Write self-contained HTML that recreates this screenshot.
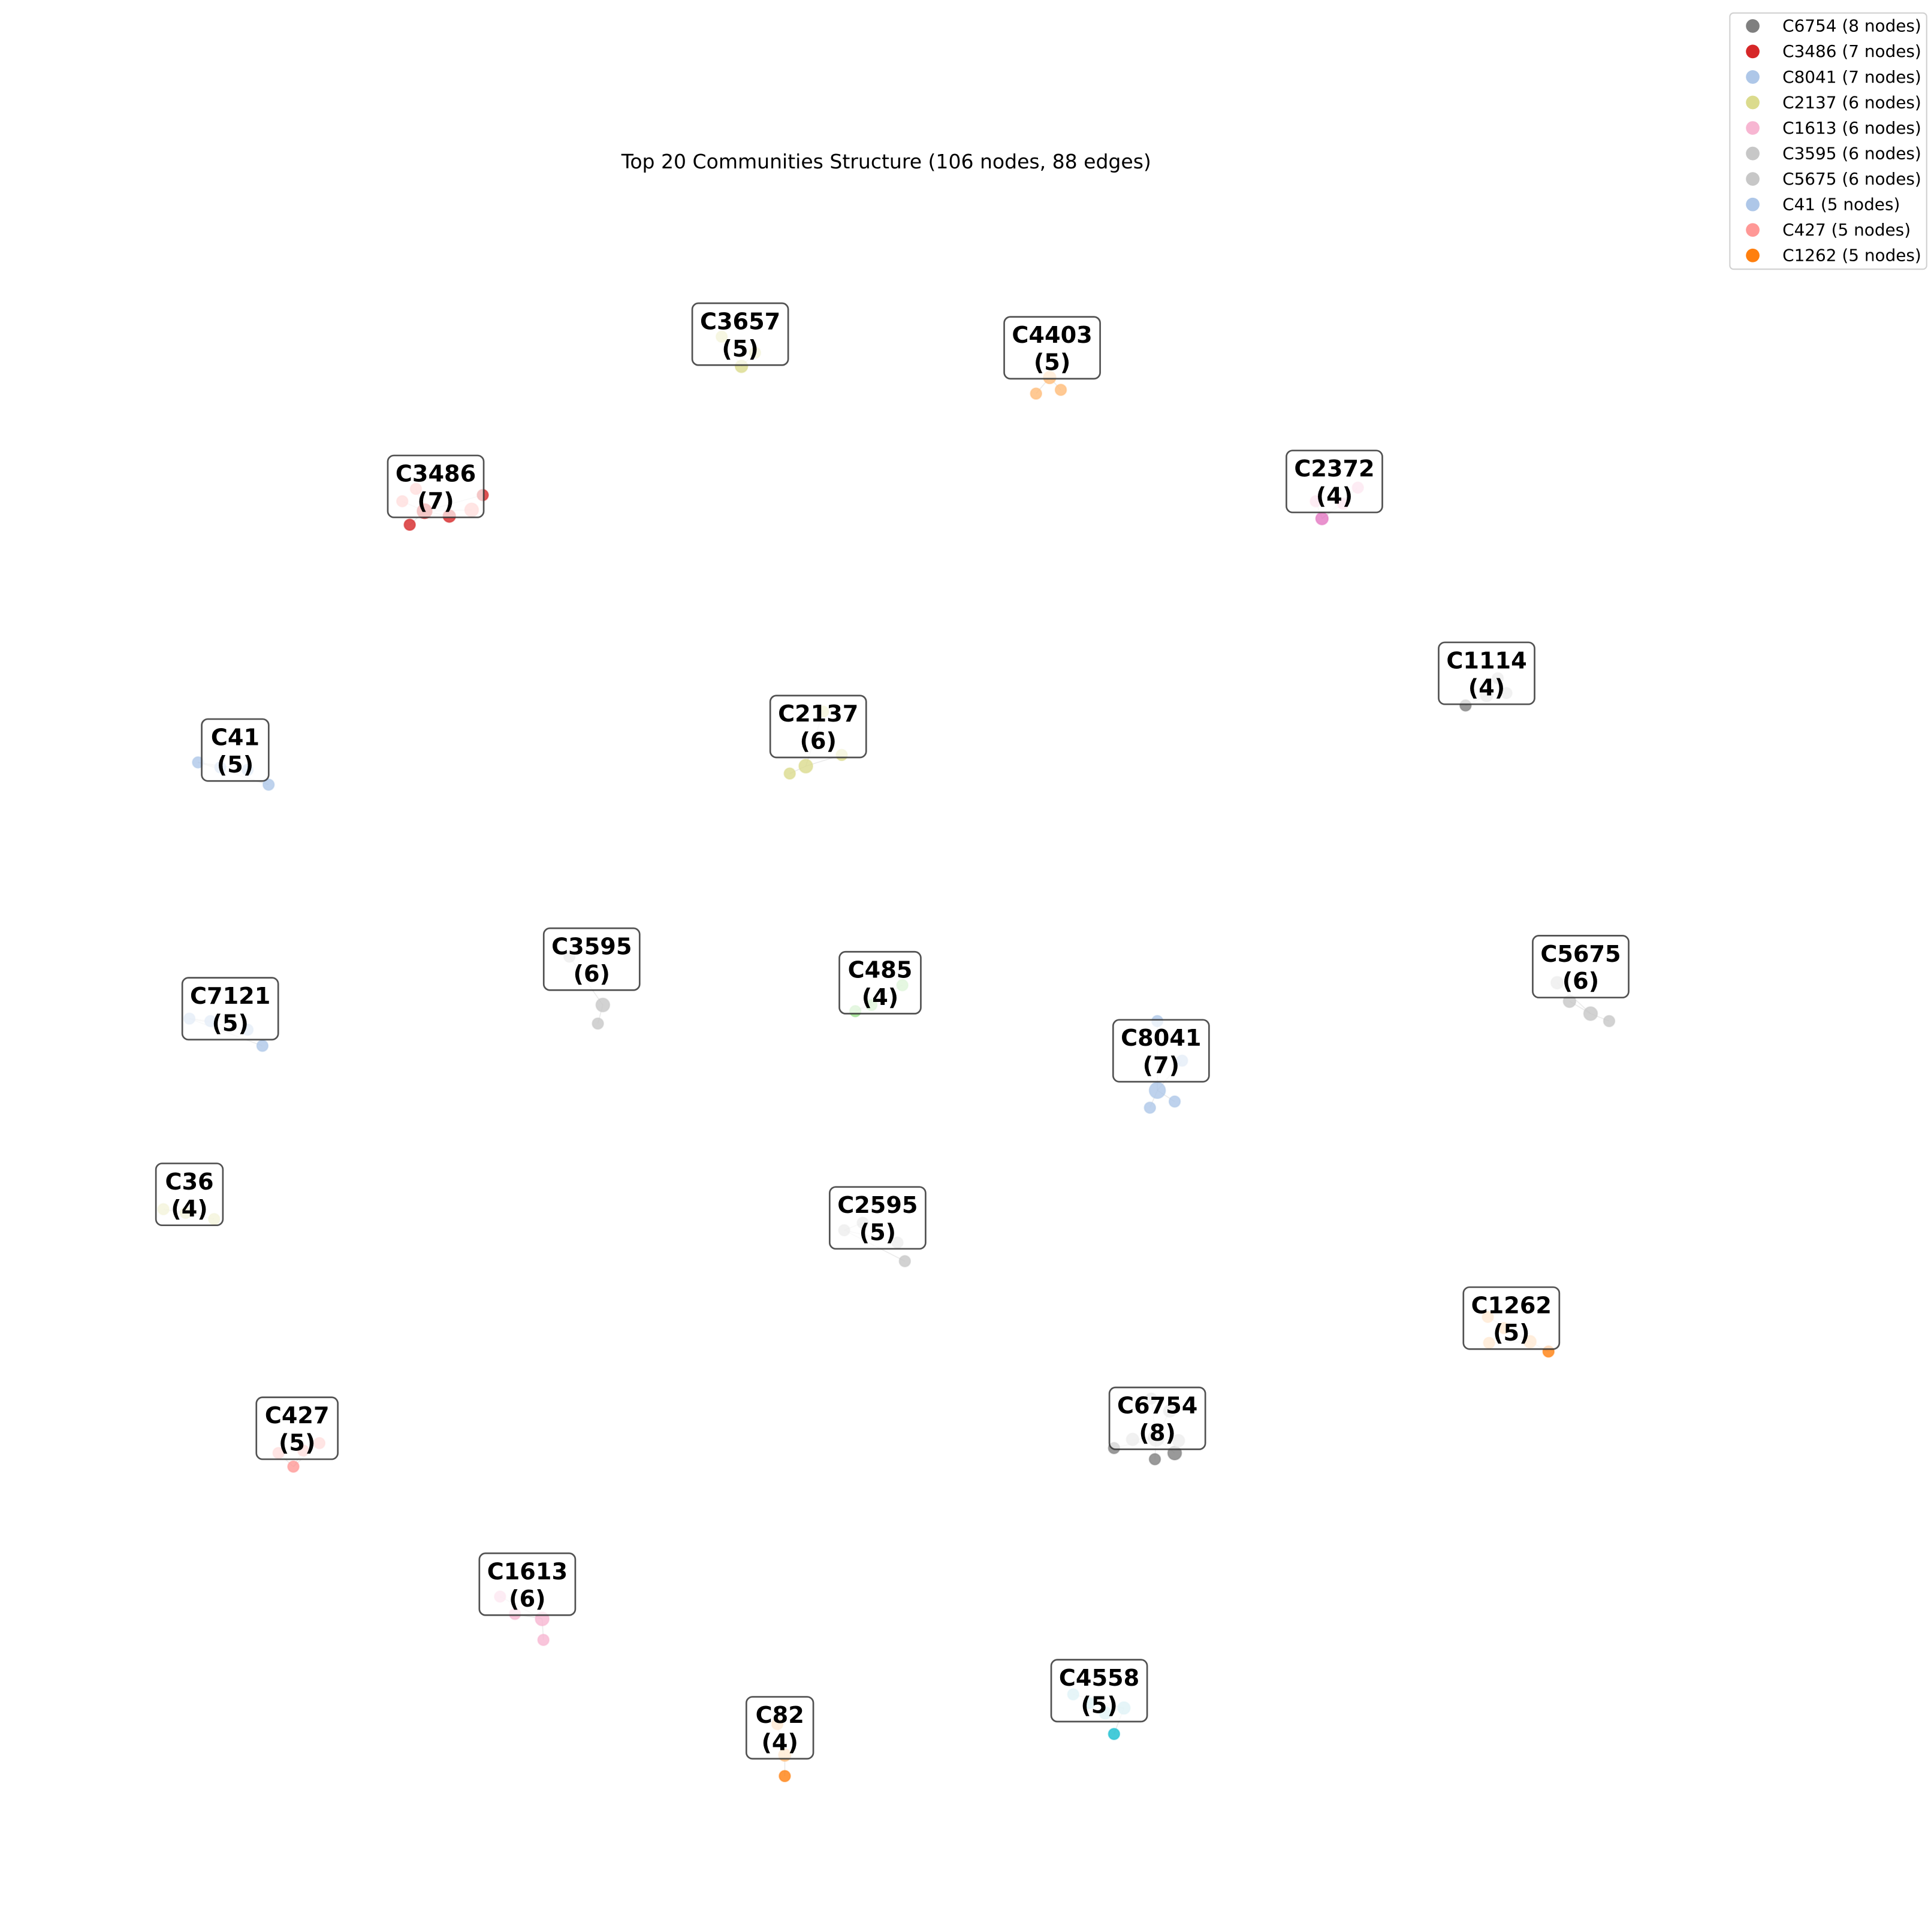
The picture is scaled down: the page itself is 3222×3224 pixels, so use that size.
<!DOCTYPE html>
<html><head><meta charset="utf-8">
<style>
html,body{margin:0;padding:0;background:#fff;}
svg{display:block;}
text{font-family:"DejaVu Sans","Liberation Sans",sans-serif;}
</style></head>
<body>
<svg id="chart" width="3222" height="3224" viewBox="0 0 1560 1561" xmlns="http://www.w3.org/2000/svg">
<rect x="0" y="0" width="1560" height="1561" fill="#fff"/>
<text x="716" y="136" font-size="16" text-anchor="middle" fill="#000">Top 20 Communities Structure (106 nodes, 88 edges)</text>
<g id="edges"></g>
<g id="nodes"></g>
<g id="labels"></g>
<g id="legend"></g>
</svg>
<script>
const communityNames = ["C3657","C4403","C3486","C2372","C1114","C41","C2137","C3595","C485","C5675","C7121","C8041","C36","C2595","C1262","C6754","C427","C1613","C4558","C82"];
const communitySizes = [5,5,7,4,4,5,6,6,4,6,5,7,4,5,5,8,5,6,5,4];
const labelX = [598,850,352,1078,1201,190,661,478,711,1277,186,938,153,709,1221,935,240,426,888,630];
const labelY = [270,281,393,389,544,606,587,775,794,781,815,849,965,984,1065,1146,1154,1280,1366,1396];
const nodeCommunity = [0,0,0, 1,1,1, 2,2,2,2,2,2,2, 3,3,3,3, 4,4,4,4, 5,5,5,5, 6,6,6,6, 7,7,7, 8,8,8, 9,9,9,9, 10,10,10,10, 11,11,11,11,11, 12,12,12, 13,13,13,13, 14,14,14,14,14, 15,15,15,15,15,15,15,15, 16,16,16,16, 17,17,17,17, 18,18,18,18,18, 19,19,19];
const nodeX = [599,583,610, 837,857,848, 331,390,363,343,325,336,381, 1068,1063,1097,1085, 1184,1201,1217,1210, 160,217,178,200, 638,651,680,665, 487,483,460, 691,729,704, 1268,1285,1300,1258, 153,212,200,170, 935,929,949,955,935, 132,173,150, 682,731,725,697, 1251,1203,1236,1202,1215, 900,933,949,915,952,934,945,930, 237,258,225,245, 439,438,416,404, 900,867,908,893,880, 634,634,628];
const nodeY = [296,272,285, 318,315,305, 424,400,417,413,405,395,412, 419,405,394,407, 570,562,560,548, 616,634,620,622, 625,619,610,575, 812,827,773, 817,796,812, 809,819,825,794, 823,845,832,825, 881,895,890,857,825, 977,985,980, 994,1019,1004,988, 1092,1085,1084,1064,1073, 1170,1179,1174,1163,1164,1162,1140,1130, 1185,1166,1174,1172, 1325,1308,1304,1290, 1401,1369,1380,1384,1376, 1435,1418,1393];
const nodeSize = [5,4.5,4.5, 4.5,4.5,5, 4.5,4.5,5,6,4.5,4.5,5.5, 5,4.5,4.5,4.5, 4.5,5,4.5,4.5, 4.5,4.5,4.5,4.5, 4.5,5.5,4.5,4.5, 5.5,4.5,4.5, 4.5,4.5,4.5, 5,5.5,4.5,5, 4.5,4.5,4.5,4.5, 6.5,4.5,4.5,4.5,4.5, 4.5,4.5,4.5, 4.5,4.5,4.5,4.5, 4.5,4.5,5,4.5,4.5, 4.5,4.5,5.5,5,5,6.5,5,4.5, 4.5,4.5,4.5,4.5, 4.5,5.5,4.5,4.5, 4.5,4.5,5,5,4.5, 4.5,5,4.5];
const nodeColor = ["#dbdb8d","#dbdb8d","#dbdb8d","#ffbb78","#ffbb78","#ffbb78","#d62728","#d62728","#d62728","#d62728","#ff9896","#ff9896","#ff9896","#e377c2","#f7b6d2","#f7b6d2","#f7b6d2","#7f7f7f","#c7c7c7","#c7c7c7","#c7c7c7","#aec7e8","#aec7e8","#aec7e8","#aec7e8","#dbdb8d","#dbdb8d","#dbdb8d","#dbdb8d","#c7c7c7","#c7c7c7","#c7c7c7","#98df8a","#98df8a","#98df8a","#c7c7c7","#c7c7c7","#c7c7c7","#c7c7c7","#aec7e8","#aec7e8","#aec7e8","#aec7e8","#aec7e8","#aec7e8","#aec7e8","#aec7e8","#aec7e8","#dbdb8d","#dbdb8d","#dbdb8d","#c7c7c7","#c7c7c7","#c7c7c7","#c7c7c7","#ff7f0e","#ffbb78","#ffbb78","#ffbb78","#ffbb78","#7f7f7f","#7f7f7f","#7f7f7f","#c7c7c7","#c7c7c7","#c7c7c7","#c7c7c7","#c7c7c7","#ff9896","#ff9896","#ff9896","#ff9896","#f7b6d2","#f7b6d2","#f7b6d2","#f7b6d2","#17becf","#9edae5","#9edae5","#9edae5","#9edae5","#ff7f0e","#ffbb78","#ffbb78"];
const legendNames = ["C6754 (8 nodes)","C3486 (7 nodes)","C8041 (7 nodes)","C2137 (6 nodes)","C1613 (6 nodes)","C3595 (6 nodes)","C5675 (6 nodes)","C41 (5 nodes)","C427 (5 nodes)","C1262 (5 nodes)"];
const legendColors = ["#7f7f7f","#d62728","#aec7e8","#dbdb8d","#f7b6d2","#c7c7c7","#c7c7c7","#aec7e8","#ff9896","#ff7f0e"];

const NS = "http://www.w3.org/2000/svg";
function mk(tag, attrs, parent){const e=document.createElementNS(NS,tag);for(const k in attrs)e.setAttribute(k,attrs[k]);parent.appendChild(e);return e;}
const gE=document.getElementById('edges'),gN=document.getElementById('nodes'),gL=document.getElementById('labels'),gG=document.getElementById('legend');

communityNames.forEach((n,ci)=>{
  const idx=nodeCommunity.map((c,i)=>c===ci?i:-1).filter(i=>i>=0);
  let hub=idx[0];idx.forEach(i=>{if(nodeSize[i]>nodeSize[hub])hub=i;});
  idx.forEach(i=>{if(i===hub)return;
    const l=mk('line',{x1:nodeX[hub],y1:nodeY[hub],x2:nodeX[i],y2:nodeY[i],stroke:'#ccc','stroke-width':0.8,'stroke-opacity':0.4},gE);
    
    
  });
});
nodeX.forEach((x,i)=>{
  const c=mk('circle',{cx:x,cy:nodeY[i],r:nodeSize[i],fill:nodeColor[i],'fill-opacity':0.8,stroke:nodeColor[i],'stroke-opacity':0.5,'stroke-width':1},gN);
  
  
});
communityNames.forEach((n,i)=>{
  const w=n.length*11.7+19,h=50,x=labelX[i],y=labelY[i];
  const g=mk('g',{},gL);
  
  
  mk('rect',{x:x-w/2,y:y-h/2,width:w,height:h,rx:5,fill:'#fff','fill-opacity':0.68,stroke:'#333','stroke-opacity':0.85,'stroke-width':1.3},g);
  const t1=mk('text',{x:x,y:y-4,'font-size':18.5,'font-weight':'bold','text-anchor':'middle',fill:'#000'},g);t1.textContent=n;
  const t2=mk('text',{x:x,y:y+18,'font-size':18.5,'font-weight':'bold','text-anchor':'middle',fill:'#000'},g);t2.textContent='('+communitySizes[i]+')';
});
const lg=mk('rect',{x:1397.5,y:10.5,width:159,height:207,rx:3,fill:'#fff','fill-opacity':0.8,stroke:'#d0d0d0','stroke-width':1},gG);


legendNames.forEach((n,i)=>{
  const y=21+i*20.6;
  const g=mk('g',{},gG);
  
  
  mk('circle',{cx:1416,cy:y,r:5.5,fill:legendColors[i]},g);
  const t=mk('text',{x:1440,y:y+4.5,'font-size':13.5,fill:'#000'},g);t.textContent=n;
});
</script>
</body></html>
